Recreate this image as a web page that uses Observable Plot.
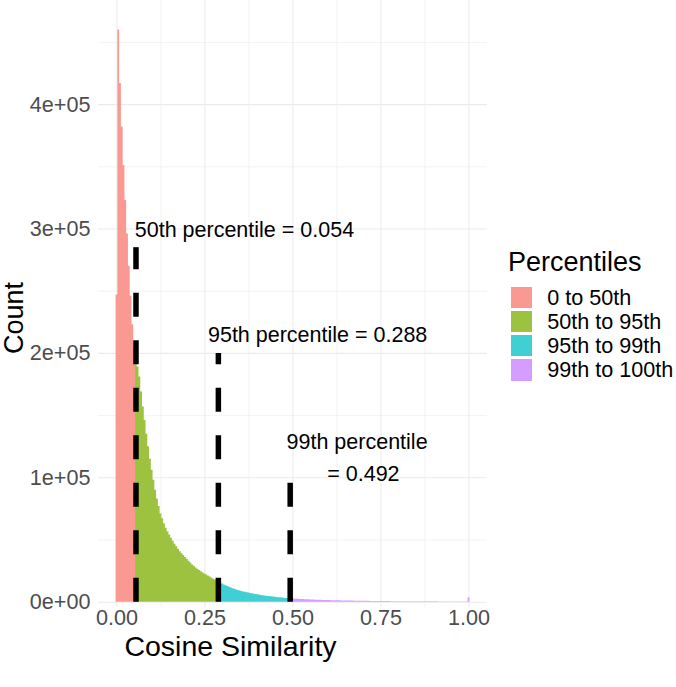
<!DOCTYPE html>
<html>
<head>
<meta charset="utf-8">
<script src="https://cdn.jsdelivr.net/npm/d3@7"></script>
<script src="https://cdn.jsdelivr.net/npm/@observablehq/plot@0.6"></script>
<style>
  body { margin: 0; background: #fff; font-family: "Liberation Sans", Arial, sans-serif; }
  #wrap { position: relative; width: 676px; height: 687px; }
  #legend .title { position: absolute; left: 508px; top: 249px; font-size: 27px; line-height: 27px; color: #000; white-space: nowrap; }
  #legend .row { position: absolute; left: 510.7px; height: 21.6px; display: flex; align-items: center; }
  #legend .sw { width: 21.6px; height: 21.6px; }
  #legend .lab { margin-left: 15px; font-size: 21.6px; line-height: 21.6px; color: #000; white-space: nowrap; }
</style>
</head>
<body>
<div id="wrap"></div>
<script>
// ---- data ----
const binWidth = 0.005;          // histogram bin width (Cosine Similarity)
const firstBinCenter = 0;        // bins centered on 0, 0.005, ...
// counts per bin, in thousands
const countsK = [
  247, 460, 417, 382, 351, 323, 296, 270, 246, 223,
  204, 195, 189, 181, 169, 157, 146, 135, 125, 115,
  106, 98, 90, 83, 77, 71, 67, 63, 59.5, 56.5,
  54, 51.5, 49, 46.5, 44.5, 42.5, 40.5, 39, 37.5, 36,
  34.5, 33, 31.5, 30, 29, 27.5, 26.5, 25.5, 24.5, 23.5,
  22.6, 21.8, 21, 20.2, 19.3, 18.5, 17.8, 17.0, 16.2, 15.4,
  14.6, 13.9, 13.2, 12.6, 12.0, 11.4, 10.9, 10.4, 9.9, 9.5,
  9.1, 8.7, 8.3, 8.0, 7.6, 7.3, 7.0, 6.7, 6.4, 6.2,
  5.9, 5.7, 5.4, 5.2, 5.0, 4.8, 4.6, 4.4, 4.3, 4.1,
  3.9, 3.8, 3.6, 3.5, 3.3, 3.2, 3.0, 2.9, 2.8, 2.7,
  2.6, 2.5, 2.4, 2.3, 2.2, 2.15, 2.1, 2.0, 1.95, 1.9,
  1.8, 1.75, 1.7, 1.65, 1.6, 1.55, 1.5, 1.45, 1.4, 1.35,
  1.3, 1.3, 1.25, 1.2, 1.2, 1.15, 1.1, 1.1, 1.05, 1.0,
  1.0, 0.95, 0.95, 0.9, 0.9, 0.85, 0.85, 0.8, 0.8, 0.75,
  0.75, 0.7, 0.7, 0.68, 0.66, 0.64, 0.62, 0.6, 0.58, 0.56,
  0.55, 0.53, 0.52, 0.5, 0.49, 0.48, 0.46, 0.45, 0.44, 0.43,
  0.42, 0.41, 0.4, 0.39, 0.38, 0.37, 0.36, 0.35, 0.35, 0.34,
  0.33, 0.33, 0.32, 0.31, 0.31, 0.3, 0.3, 0.29, 0.29, 0.28,
  0.28, 0.27, 0.27, 0.26, 0.26, 0.25, 0.25, 0.25, 0.24, 0.24,
  0.24, 0.23, 0.23, 0.23, 0.22, 0.22, 0.22, 0.22, 0.23, 0.3,
  3.5
];

const categories = ["0 to 50th", "50th to 95th", "95th to 99th", "99th to 100th"];
const categoryColors = ["#FA9892", "#9DC240", "#40CFD3", "#D59DFF"];
const percentileValues = [0.054, 0.288, 0.492];
const percentileLineTops = [285000, 200000, 100000];

const annotationText = ["50th percentile = 0.054", "95th percentile = 0.288", "99th percentile", "= 0.492"];
const annotationX = [0.362, 0.570, 0.682, 0.700];
const annotationY = [299000, 215000, 129000, 102600];

const xTicks = [0, 0.25, 0.5, 0.75, 1];
const xTickLabels = ["0.00", "0.25", "0.50", "0.75", "1.00"];
const xMinorGrid = [0.125, 0.375, 0.625, 0.875];
const yTicks = [0, 100000, 200000, 300000, 400000];
const yTickLabels = ["0e+00", "1e+05", "2e+05", "3e+05", "4e+05"];
const yMinorGrid = [50000, 150000, 250000, 350000, 450000];

const xTitle = "Cosine Similarity";
const yTitle = "Count";
const legendTitle = "Percentiles";

// ---- build step outline per category (histogram bins) ----
const bins = countsK.map((c, i) => {
  const center = firstBinCenter + i * binWidth;
  let k = 0;
  while (k < percentileValues.length && center >= percentileValues[k]) k++;
  return { x1: center - binWidth / 2, x2: center + binWidth / 2, count: c * 1000, cat: categories[k] };
});
const steps = [];
bins.forEach((b, i) => {
  steps.push({ x: b.x1, count: b.count, cat: b.cat });
  const next = bins[i + 1];
  if (!next || next.cat !== b.cat) steps.push({ x: b.x2, count: b.count, cat: b.cat });
});
const lines = percentileValues.map((v, i) => ({ x: v, top: percentileLineTops[i] }));
const notes = annotationText.map((t, i) => ({ t, x: annotationX[i], y: annotationY[i] }));

const gridColor = "#EBEBEB";
const chart = Plot.plot({
  width: 676,
  height: 687,
  marginLeft: 98,
  marginRight: 189,
  marginTop: 0,
  marginBottom: 80,
  style: { fontFamily: "Liberation Sans, Arial, sans-serif", background: "#fff" },
  x: { domain: [-0.0525, 1.0525] },
  y: { domain: [-4260, 483700] },
  color: { domain: categories, range: categoryColors },
  marks: [
    Plot.gridX(xMinorGrid, { stroke: gridColor, strokeOpacity: 1, strokeWidth: 0.6 }),
    Plot.gridY(yMinorGrid, { stroke: gridColor, strokeOpacity: 1, strokeWidth: 0.6 }),
    Plot.gridX(xTicks, { stroke: gridColor, strokeOpacity: 1, strokeWidth: 1.1 }),
    Plot.gridY(yTicks, { stroke: gridColor, strokeOpacity: 1, strokeWidth: 1.1 }),
    Plot.areaY(steps, { x: "x", y1: () => 0, y2: "count", z: "cat", fill: "cat", curve: "step-after" }),
    Plot.ruleX(lines, { x: "x", y1: () => 0, y2: "top", stroke: "#000", strokeWidth: 5.5, strokeDasharray: "24,23.5" }),
    Plot.text(notes, { x: "x", y: "y", text: "t", fontSize: 21.5, fill: "#000", textAnchor: "middle" }),
    Plot.axisX(xTicks, { tickSize: 0, tickPadding: 2, fontSize: 21.6, fill: "#4D4D4D", label: null,
      tickFormat: d => xTickLabels[xTicks.indexOf(d)] }),
    Plot.axisY(yTicks, { tickSize: 0, tickPadding: 8, fontSize: 21.6, fill: "#4D4D4D", label: null,
      tickFormat: d => yTickLabels[yTicks.indexOf(d)] }),
    Plot.text([xTitle], { frameAnchor: "bottom-left", textAnchor: "middle", dx: 132, dy: 39, fontSize: 28.5, fill: "#000", lineAnchor: "middle" }),
    Plot.text([yTitle], { frameAnchor: "left", textAnchor: "middle", dx: -84, dy: 14, rotate: -90, fontSize: 27, fill: "#000", lineAnchor: "middle" })
  ]
});

const wrap = document.getElementById("wrap");
wrap.appendChild(chart);

// legend
const legend = document.createElement("div");
legend.id = "legend";
let html = `<div class="title">${legendTitle}</div>`;
categories.forEach((c, i) => {
  html += `<div class="row" style="top:${286.7 + i * 24.1}px"><div class="sw" style="background:${categoryColors[i]}"></div><div class="lab">${c}</div></div>`;
});
legend.innerHTML = html;
wrap.appendChild(legend);
</script>
</body>
</html>
